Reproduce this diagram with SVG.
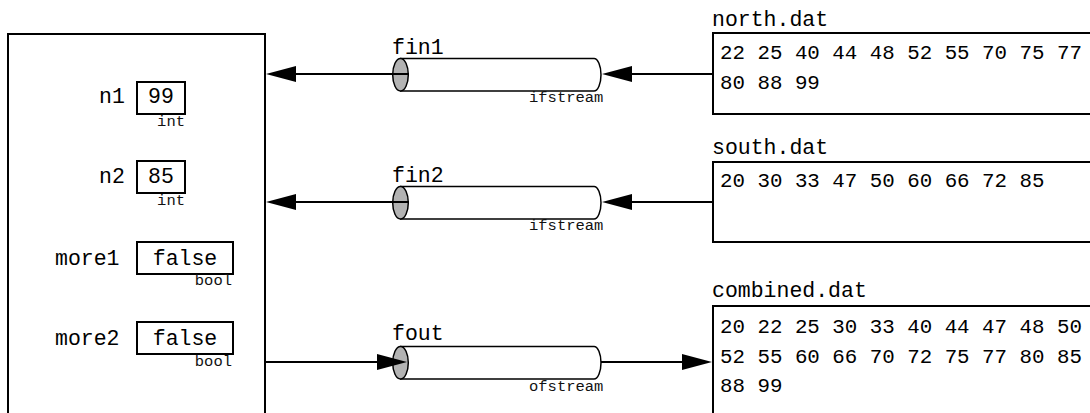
<svg xmlns="http://www.w3.org/2000/svg" width="1090" height="413" viewBox="0 0 1090 413">
<style>
.box{fill:none;stroke:#000;stroke-width:2}
.vbox{fill:#fff;stroke:#000;stroke-width:2}
.t{font-family:"Liberation Mono","DejaVu Sans Mono",monospace;font-size:21.5px;fill:#000}
.n{font-family:"Liberation Mono","DejaVu Sans Mono",monospace;font-size:20.8px;fill:#000}
.s{font-family:"Liberation Mono","DejaVu Sans Mono",monospace;font-size:15.5px;fill:#111}
.cyl{fill:#fff;stroke:#000;stroke-width:1.5}
.cap{fill:#b3b3b3;stroke:#000;stroke-width:1.5}
.ln{stroke:#000;stroke-width:2;fill:none}
.ah{fill:#000}
</style>
<rect width="1090" height="413" fill="#fff"/>
<g id="program">
<rect class="box" x="8" y="34" width="257" height="400"/>
</g>
<g id="n1">
<text class="t" x="99" y="103">n1</text>
<rect class="vbox" x="137" y="82" width="48" height="32"/>
<text class="t" x="161" y="103" text-anchor="middle">99</text>
<text class="s" x="185" y="126" text-anchor="end">int</text>
</g>
<g id="n2">
<text class="t" x="99" y="183">n2</text>
<rect class="vbox" x="137" y="161" width="48" height="32"/>
<text class="t" x="161" y="183" text-anchor="middle">85</text>
<text class="s" x="185" y="205" text-anchor="end">int</text>
</g>
<g id="more1">
<text class="t" x="55" y="265">more1</text>
<rect class="vbox" x="137" y="242" width="96" height="32"/>
<text class="t" x="185" y="265" text-anchor="middle">false</text>
<text class="s" x="232" y="285" text-anchor="end">bool</text>
</g>
<g id="more2">
<text class="t" x="55" y="345">more2</text>
<rect class="vbox" x="137" y="322" width="96" height="32"/>
<text class="t" x="185" y="345" text-anchor="middle">false</text>
<text class="s" x="232" y="366" text-anchor="end">bool</text>
</g>
<g id="fin1">
<path class="cyl" d="M400,58.5 H594 A7,16.25 0 0 1 594,91 H400"/>
<ellipse class="cap" cx="400.5" cy="74.75" rx="7.8" ry="16.25"/>
<text class="t" x="392" y="54">fin1</text>
<text class="s" x="529" y="102">ifstream</text>
</g>
<g id="fin2">
<path class="cyl" d="M400,186.5 H594 A7,16.25 0 0 1 594,219 H400"/>
<ellipse class="cap" cx="400.5" cy="202.75" rx="7.8" ry="16.25"/>
<text class="t" x="392" y="182">fin2</text>
<text class="s" x="529" y="230">ifstream</text>
</g>
<g id="fout">
<path class="cyl" d="M400,346.5 H594 A7,16.25 0 0 1 594,379 H400"/>
<ellipse class="cap" cx="400.5" cy="362.75" rx="7.8" ry="16.25"/>
<text class="t" x="392" y="340">fout</text>
<text class="s" x="529" y="391">ofstream</text>
</g>
<g id="north">
<text class="t" x="712" y="26">north.dat</text>
<rect class="box" x="713" y="33" width="400" height="81"/>
<text class="n" x="720" y="59">22 25 40 44 48 52 55 70 75 77</text>
<text class="n" x="720" y="89">80 88 99</text>
</g>
<g id="south">
<text class="t" x="712" y="154">south.dat</text>
<rect class="box" x="713" y="162" width="400" height="80"/>
<text class="n" x="720" y="187">20 30 33 47 50 60 66 72 85</text>
</g>
<g id="combined">
<text class="t" x="712" y="297">combined.dat</text>
<rect class="box" x="713" y="306" width="400" height="130"/>
<text class="n" x="720" y="333">20 22 25 30 33 40 44 47 48 50</text>
<text class="n" x="720" y="363">52 55 60 66 70 72 75 77 80 85</text>
<text class="n" x="720" y="392">88 99</text>
</g>
<g id="connectors">
<line class="ln" x1="290" y1="74" x2="409" y2="74"/>
<polygon class="ah" points="266,74 296,66 296,82"/>
<line class="ln" x1="626" y1="74" x2="713" y2="74"/>
<polygon class="ah" points="602,74 632,66 632,82"/>
<line class="ln" x1="290" y1="202" x2="409" y2="202"/>
<polygon class="ah" points="266,202 296,194 296,210"/>
<line class="ln" x1="626" y1="202" x2="713" y2="202"/>
<polygon class="ah" points="602,202 632,194 632,210"/>
<line class="ln" x1="265" y1="362" x2="385" y2="362"/>
<polygon class="ah" points="407,362 377,354 377,370"/>
<line class="ln" x1="601" y1="362" x2="688" y2="362"/>
<polygon class="ah" points="712,362 682,354 682,370"/>
</g>
</svg>
